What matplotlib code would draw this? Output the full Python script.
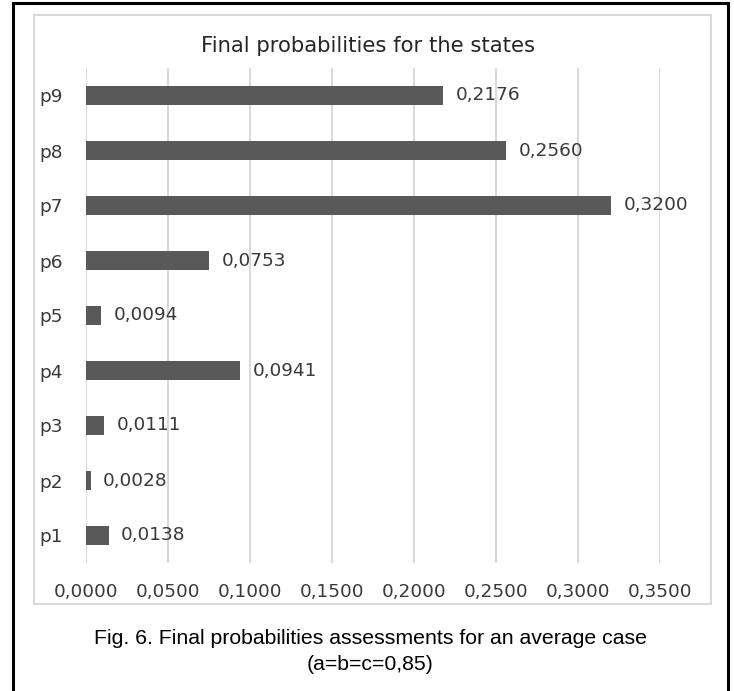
#!/usr/bin/env python3
"""
Final probabilities for the states p1..p9 (horizontal bar chart)
"""

import matplotlib
matplotlib.use('Agg')
import matplotlib.pyplot as plt
from matplotlib.patches import Rectangle
from matplotlib.lines import Line2D

# State labels and their final probabilities
states = ['p1', 'p2', 'p3', 'p4', 'p5', 'p6', 'p7', 'p8', 'p9']
probabilities = [0.0138, 0.0028, 0.0111, 0.0941, 0.0094, 0.0753, 0.3200, 0.2560, 0.2176]
x_ticks = [0.0, 0.05, 0.10, 0.15, 0.20, 0.25, 0.30, 0.35]

title = 'Final probabilities for the states'
caption = ['Fig. 6. Final probabilities assessments for an average case',
           '(a=b=c=0,85)']

W, H = 734, 691
BAR_COLOR = '#595959'
GRID_COLOR = '#d9d9d9'
TEXT_COLOR = '#3a3a3a'
LABEL_SIZE = 13.3


def fmt(v):
    return f'{v:.4f}'.replace('.', ',')


def fx(px):
    return px / W


def fy(py):
    # pixel rows counted from the top
    return 1 - py / H


fig = plt.figure(figsize=(W / 100, H / 100), dpi=100)

# outer page frame (open at the bottom)
for xs, ys in [((13, 13), (3, H)), ((728, 728), (3, H)), ((13, 728), (3, 3))]:
    fig.add_artist(Line2D([fx(x) for x in xs], [fy(y) for y in ys],
                          color='black', lw=2.2, transform=fig.transFigure))

# chart area border
fig.add_artist(Rectangle((fx(34), fy(604)), fx(711) - fx(34), fy(15) - fy(604),
                         transform=fig.transFigure, fill=False,
                         edgecolor=GRID_COLOR, lw=1.5))

ax = fig.add_axes([fx(86), fy(563), fx(660) - fx(86), fy(68) - fy(563)])

y = range(len(states))
ax.barh(y, probabilities, height=0.355, color=BAR_COLOR, zorder=3)

for yi, v in zip(y, probabilities):
    ax.annotate(fmt(v), xy=(v, yi), xytext=(9, 0), textcoords='offset points',
                ha='left', va='center', fontsize=LABEL_SIZE, color=TEXT_COLOR,
                family='DejaVu Sans')

ax.set_xlim(0, 0.35)
ax.set_ylim(-0.5, len(states) - 0.5)
ax.set_xticks(x_ticks)
ax.set_xticklabels([fmt(t) for t in x_ticks])
ax.set_yticks(list(y))
ax.set_yticklabels(states)

ax.tick_params(axis='x', length=0, pad=14.5, labelsize=LABEL_SIZE, labelcolor=TEXT_COLOR)
ax.tick_params(axis='y', length=0, pad=16.5, labelsize=LABEL_SIZE, labelcolor=TEXT_COLOR)
ax.grid(True, axis='x', color=GRID_COLOR, lw=1.5, zorder=0)
ax.set_axisbelow(True)
for s in ax.spines.values():
    s.set_visible(False)

fig.text(fx(368), fy(46), title, ha='center', va='center',
         fontsize=15.2, color='#262626', family='DejaVu Sans')

fig.text(fx(370), fy(638), caption[0], ha='center', va='center',
         fontsize=15.3, color='black', family='Liberation Sans')
fig.text(fx(370), fy(664), caption[1], ha='center', va='center',
         fontsize=15.3, color='black', family='Liberation Sans')

fig.savefig('out.png', dpi=100)
